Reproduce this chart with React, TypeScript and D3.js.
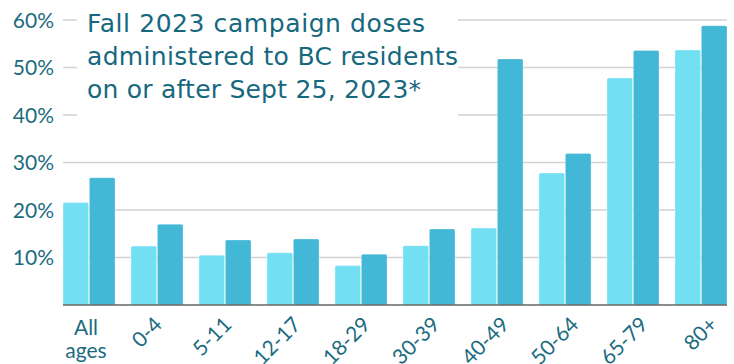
import React from "react";
import * as d3 from "d3";

const categories = ["All ages", "0-4", "5-11", "12-17", "18-29", "30-39", "40-49", "50-64", "65-79", "80+"];
const seriesLight = [21.6, 12.4, 10.5, 11.0, 8.3, 12.5, 16.2, 27.8, 47.8, 53.7];
const seriesDark = [26.8, 17.0, 13.7, 13.9, 10.7, 16.0, 51.8, 31.9, 53.6, 58.8];
const yTicks = [10, 20, 30, 40, 50, 60];
const titleLines = [
  "Fall 2023 campaign doses",
  "administered to BC residents",
  "on or after Sept 25, 2023*",
];
const titleWidths = [338, 371, 334];

const W = 734;
const H = 364;
const FONT = "Lato, 'Noto Sans', sans-serif";
const TITLE_FONT = "'DejaVu Sans', sans-serif";
const TEXT = "#1b6b80";
const TITLE = "#16687e";
const LIGHT = "#72e0f2";
const DARK = "#42b8d6";

export default function App() {
  const x = d3.scaleBand<string>().domain(categories).range([63, 727]).paddingInner(0.235).paddingOuter(0);
  const sub = d3.scaleBand<string>().domain(["light", "dark"]).range([0, x.bandwidth()]).paddingInner(0.03);
  const y = d3.scaleLinear().domain([0, 60]).range([305, 20]);
  const lbl = d3.scalePoint<string>().domain(categories).range([86, 710.6]);

  const barPath = (x0: number, w: number, v: number) => {
    const top = y(v);
    const bot = y(0);
    const r = 1.5;
    return `M${x0},${bot}V${top + r}Q${x0},${top} ${x0 + r},${top}H${x0 + w - r}Q${x0 + w},${top} ${x0 + w},${top + r}V${bot}Z`;
  };

  return (
    <div style={{ position: "absolute", left: 0, top: 0 }}>
      <svg width={W} height={H} style={{ display: "block", fontFamily: FONT }}>
        <rect width={W} height={H} fill="#fff" />
        {yTicks.map((t) => (
          <line key={t} x1={63} x2={727} y1={y(t)} y2={y(t)} stroke="#d2d2d2" strokeWidth={1.5} />
        ))}
        <rect x={77} y={0} width={381} height={130} fill="#fff" />
        {yTicks.map((t) => (
          <text key={t} x={54} y={y(t)} dy="0.36em" textAnchor="end" fontSize={21} fill={TEXT}>
            {t}%
          </text>
        ))}
        {categories.map((c, i) => (
          <g key={c} transform={`translate(${x(c)},0)`}>
            <path d={barPath(sub("light")!, sub.bandwidth(), seriesLight[i])} fill={LIGHT} stroke="#ffffff" strokeOpacity={0.45} strokeWidth={0.8} />
            <path d={barPath(sub("dark")!, sub.bandwidth(), seriesDark[i])} fill={DARK} stroke="#ffffff" strokeOpacity={0.35} strokeWidth={0.8} />
          </g>
        ))}
        <line x1={63} x2={727} y1={y(0)} y2={y(0)} stroke="#666" strokeWidth={1.5} />
        {categories.map((c, i) => {
          const p = lbl(c)!;
          if (i === 0) {
            const parts = c.split(" ");
            return (
              <text key={c} x={p} y={335} textAnchor="middle" fontSize={21} fill={TEXT}>
                <tspan x={p}>{parts[0]}</tspan>
                <tspan x={p} dy={23}>{parts[1]}</tspan>
              </text>
            );
          }
          return (
            <text key={c} transform={`translate(${p + 8},326) rotate(-45)`} textAnchor="end" fontSize={21} fill={TEXT}>
              {c}
            </text>
          );
        })}
        {titleLines.map((t, i) => (
          <text
            key={t}
            x={87}
            y={32 + i * 33}
            fontSize={25}
            fontFamily={TITLE_FONT}
            fill={TITLE}
            textLength={titleWidths[i]}
            lengthAdjust="spacing"
          >
            {t}
          </text>
        ))}
      </svg>
    </div>
  );
}
